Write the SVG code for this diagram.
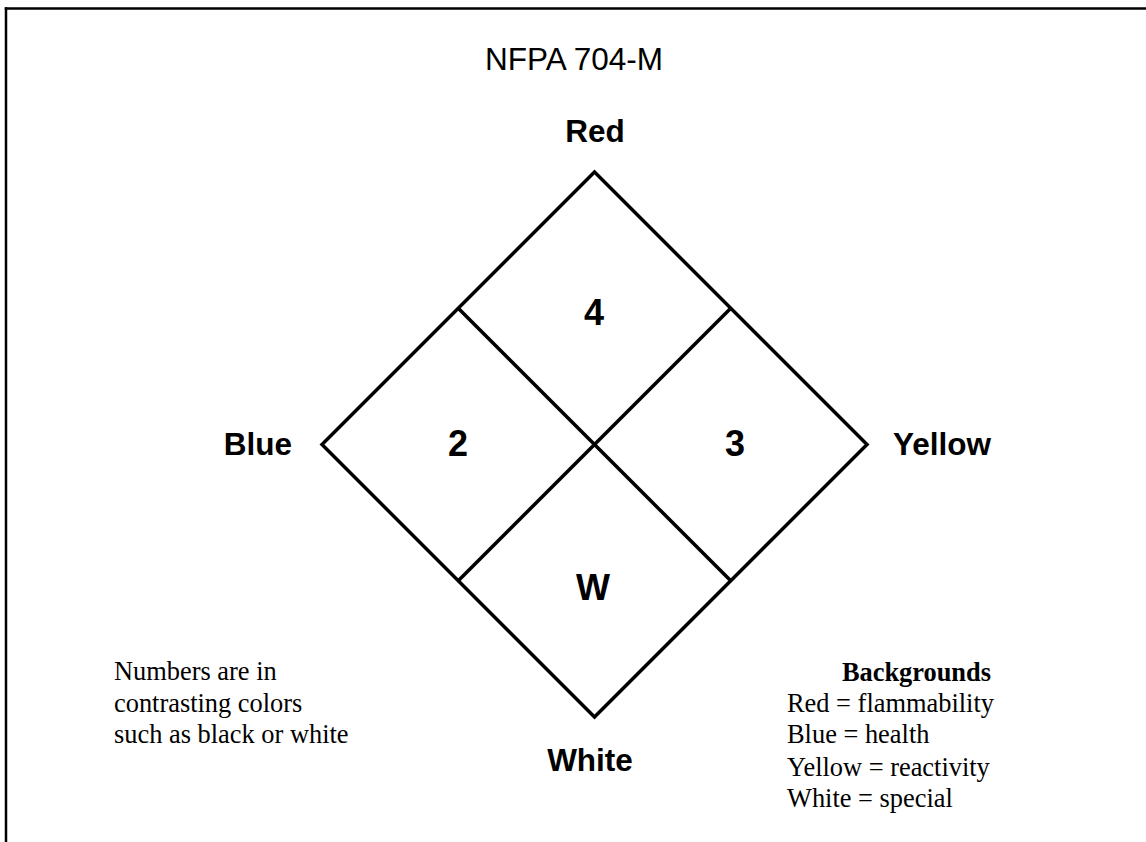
<svg xmlns="http://www.w3.org/2000/svg" width="1146" height="842" viewBox="0 0 1146 842">
<style>
.frame{stroke:#000;stroke-width:2.5;fill:none}
.line{stroke:#000;stroke-width:3.5;fill:none;stroke-linejoin:miter;stroke-linecap:butt}
.title{font-family:"Liberation Sans",Arial,sans-serif;font-size:31.5px;fill:#000}
.lbl{font-family:"Liberation Sans",Arial,sans-serif;font-size:31.5px;font-weight:bold;fill:#000;text-anchor:middle}
.num{font-family:"Liberation Sans",Arial,sans-serif;font-size:36px;font-weight:bold;fill:#000;text-anchor:middle}
.note{font-family:"Liberation Serif","Times New Roman",serif;font-size:26.4px;fill:#000}
</style>
<rect width="1146" height="842" fill="#fff"/>
<g id="frame">
<line class="frame" x1="4.75" y1="8.5" x2="1146" y2="8.5"/>
<line class="frame" x1="6" y1="7.25" x2="6" y2="842"/>
</g>
<text id="title" class="title" x="485" y="70">NFPA 704-M</text>
<g id="diamond">
<polygon class="line" points="594.5,172 867,444.5 594.5,717 322,444.5"/>
<line class="line" x1="458.25" y1="308.25" x2="730.75" y2="580.75"/>
<line class="line" x1="730.75" y1="308.25" x2="458.25" y2="580.75"/>
</g>
<g id="top-quadrant"><text class="num" x="594" y="325">4</text></g>
<g id="left-quadrant"><text class="num" x="458" y="456">2</text></g>
<g id="right-quadrant"><text class="num" x="735" y="456">3</text></g>
<g id="bottom-quadrant"><text class="num" x="593" y="600">W</text></g>
<g id="labels">
<text class="lbl" x="595" y="142">Red</text>
<text class="lbl" x="292" y="455" style="text-anchor:end">Blue</text>
<text class="lbl" x="893" y="455" style="text-anchor:start">Yellow</text>
<text class="lbl" x="590" y="771">White</text>
</g>
<g id="note-left">
<text class="note" x="114" y="680">Numbers are in</text>
<text class="note" x="114" y="711.7">contrasting colors</text>
<text class="note" x="114" y="743.3">such as black or white</text>
</g>
<g id="note-right">
<text class="note" x="991" y="680.7" style="font-weight:bold;text-anchor:end">Backgrounds</text>
<text class="note" x="787" y="711.7">Red = flammability</text>
<text class="note" x="787" y="743.3">Blue = health</text>
<text class="note" x="787" y="775.7">Yellow = reactivity</text>
<text class="note" x="787" y="806.7">White = special</text>
</g>
</svg>
